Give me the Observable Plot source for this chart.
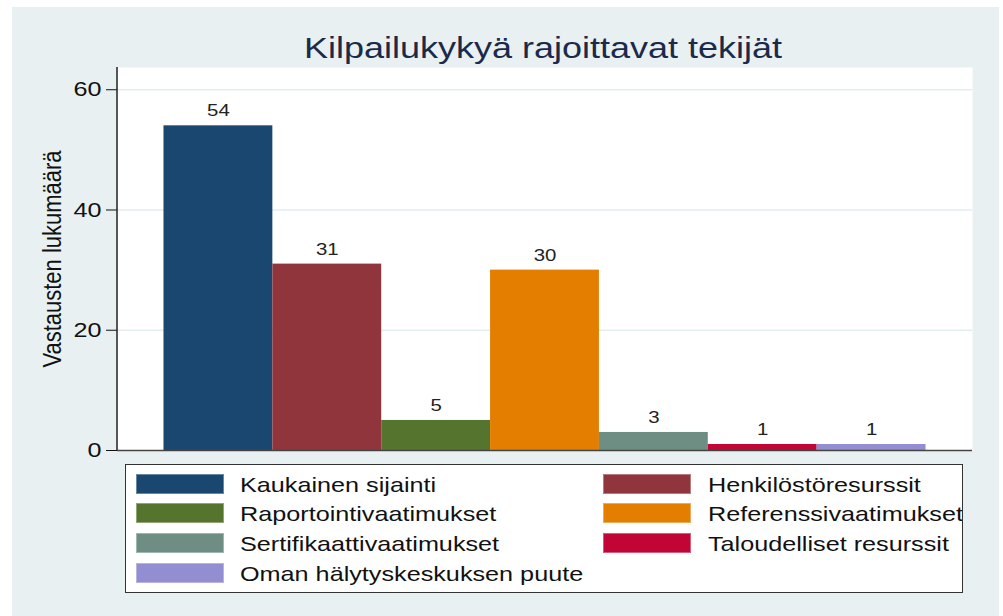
<!DOCTYPE html>
<html><head><meta charset="utf-8">
<script src="https://cdn.jsdelivr.net/npm/d3@7"></script>
<script src="https://cdn.jsdelivr.net/npm/@observablehq/plot@0.6"></script>
<style>
html,body{margin:0;padding:0;background:#fff;}
#page{position:relative;width:1003px;height:616px;overflow:hidden;font-family:"Liberation Sans",Arial,sans-serif;}
#bg{position:absolute;left:12px;top:7px;width:987px;height:609px;background:#e8f0f2;}
#title{position:absolute;left:43px;width:1000px;top:33px;text-align:center;font-size:30px;line-height:30px;color:#1b2a4a;transform:scaleX(1.2);transform-origin:500px 0;white-space:nowrap;}
#chart{position:absolute;left:0;top:60px;}
#legend{position:absolute;left:125px;top:464px;width:836px;height:127px;background:#fff;border:1px solid #333;overflow:hidden;}
.sw{position:absolute;width:88px;height:20px;box-sizing:border-box;border:1px solid rgba(255,255,255,0.35);}
.lab{position:absolute;font-size:21px;line-height:21px;color:#111;white-space:nowrap;transform:scaleX(1.2);transform-origin:0 0;}
</style>
</head>
<body>
<div id="page">
  <div id="bg"></div>
  <div id="title"></div>
  <div id="chart"></div>
  <div id="legend"></div>
</div>
<script>
const categories = ["Kaukainen sijainti","Henkilöstöresurssit","Raportointivaatimukset","Referenssivaatimukset","Sertifikaattivaatimukset","Taloudelliset resurssit","Oman hälytyskeskuksen puute"];
const values = [54, 31, 5, 30, 3, 1, 1];
const colors = ["#1a476f","#90353b","#55752f","#e37e00","#6e8e84","#c10534","#938dd2"];
const yTicks = [0, 20, 40, 60];
const gridTicks = [20, 40, 60];
const titleText = "Kilpailukykyä rajoittavat tekijät";
const yLabel = "Vastausten lukumäärä";

const data = categories.map((c, i) => ({cat: c, value: values[i]}));

document.getElementById("title").textContent = titleText;

const chart = Plot.plot({
  width: 1003, height: 420,
  marginLeft: 117, marginRight: 31, marginTop: 7, marginBottom: 30,
  style: {background: "transparent", fontFamily: '"Liberation Sans", Arial, sans-serif', fontSize: "21px", color: "#111", overflow: "visible"},
  x: {type: "band", domain: categories, paddingInner: 0, paddingOuter: 0.427, round: false, axis: null},
  y: {domain: [0, 63.7], axis: null},
  color: {domain: categories, range: colors},
  marks: [
    Plot.frame({fill: "white", stroke: "none"}),
    Plot.ruleY(gridTicks, {stroke: "#e3edf0", strokeWidth: 1.6}),
    Plot.barY(data, {x: "cat", y: "value", fill: "cat"}),
    Plot.ruleY([0], {stroke: "#444", strokeWidth: 1.5}),
    Plot.axisY(yTicks, {tickSize: 11, tickPadding: 5, label: null, color: "#111", fontSize: 21}),
    Plot.text(data, {x: "cat", y: "value", text: d => String(d.value), dy: -15, fontSize: 17, fill: "#222"}),
    Plot.text([yLabel], {frameAnchor: "left", rotate: -90, textAnchor: "middle", dx: -65, fontSize: 22, fill: "#111"})
  ]
});

// left axis line using the plot's scales
const xs = chart.scale("x"), ys = chart.scale("y");
d3.select(chart).append("line")
  .attr("x1", xs.range[0]).attr("x2", xs.range[0])
  .attr("y1", ys.range[0]).attr("y2", ys.range[1])
  .attr("stroke", "#222").attr("stroke-width", 1.5);

// horizontal stretch of glyphs like the reference
chart.querySelectorAll("text").forEach(t => {
  const X = +t.getAttribute("x") || 0, Y = +t.getAttribute("y") || 0;
  const T = t.getAttribute("transform") || "";
  const s = /rotate/.test(T) ? "scale(1,1.2)" : "scale(1.2,1)";
  t.setAttribute("transform", `${T} translate(${X},${Y}) ${s} translate(${-X},${-Y})`);
});

document.getElementById("chart").appendChild(chart);

// legend (two columns, row-major)
const cs = chart.scale("color");
const legend = document.getElementById("legend");
categories.forEach((c, i) => {
  const col = i % 2, row = Math.floor(i / 2);
  const top = 8.5 + row * 29.7;
  const sw = document.createElement("div");
  sw.className = "sw";
  sw.style.left = (col ? 477.3 : 9.7) + "px";
  sw.style.top = top + "px";
  sw.style.background = cs.apply(c);
  legend.appendChild(sw);
  const lab = document.createElement("div");
  lab.className = "lab";
  lab.style.left = (col ? 581.7 : 114) + "px";
  lab.style.top = top + "px";
  lab.textContent = c;
  legend.appendChild(lab);
});
</script>
</body></html>
